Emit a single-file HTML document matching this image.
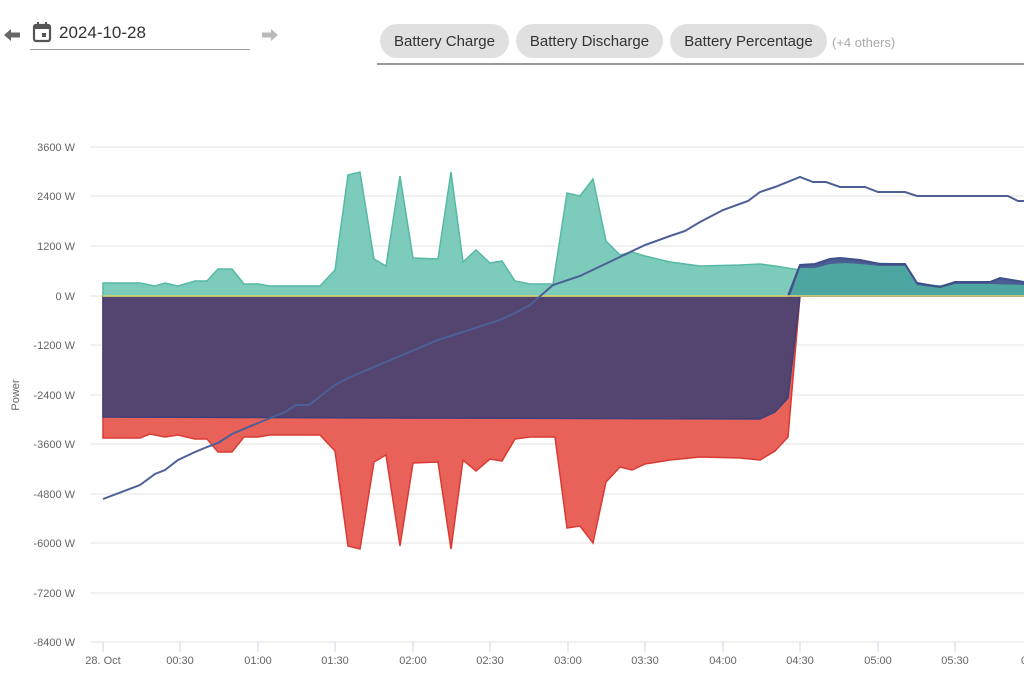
<!DOCTYPE html>
<html><head><meta charset="utf-8"><style>
body{margin:0;width:1024px;height:673px;background:#fff;font-family:"Liberation Sans",sans-serif;overflow:hidden;position:relative}
.chip{position:absolute;top:24px;height:34px;border-radius:17px;background:#e0e0e0;color:#333;font-size:15px;line-height:36px;text-align:center}
</style></head><body>
<svg style="position:absolute;left:2px;top:28px" width="20" height="14"><path d="M2 7 L9 1 V4.5 H18 V9.5 H9 V13 Z" fill="#666"/></svg>
<svg style="position:absolute;left:260px;top:28px" width="20" height="14"><path d="M18 7 L11 1 V4.5 H2 V9.5 H11 V13 Z" fill="#bbb"/></svg>
<svg style="position:absolute;left:32px;top:21px" width="20" height="22"><rect x="2" y="4" width="16" height="16" rx="2" fill="none" stroke="#555" stroke-width="2.2"/><rect x="2" y="4" width="16" height="4" fill="#555"/><rect x="5" y="1" width="2" height="4" fill="#555"/><rect x="13" y="1" width="2" height="4" fill="#555"/><rect x="10" y="12" width="4" height="4" fill="#555"/></svg>
<div style="position:absolute;left:59px;top:23px;font-size:17px;color:#333">2024-10-28</div>
<div style="position:absolute;left:30px;top:49px;width:220px;height:1px;background:#999"></div>
<div class="chip" style="left:380px;width:129px">Battery Charge</div>
<div class="chip" style="left:516px;width:147px">Battery Discharge</div>
<div class="chip" style="left:670px;width:157px">Battery Percentage</div>
<div style="position:absolute;left:832px;top:35px;font-size:13px;color:#aaa">(+4 others)</div>
<div style="position:absolute;left:377px;top:63px;width:647px;height:2px;background:#999"></div>
<svg style="position:absolute;left:0;top:0" width="1024" height="673" font-family="Liberation Sans, sans-serif">
<g stroke="#e3e3e3" stroke-width="1">
<line x1="90" x2="1024" y1="147" y2="147"/><line x1="90" x2="1024" y1="196" y2="196"/><line x1="90" x2="1024" y1="246" y2="246"/><line x1="90" x2="1024" y1="296" y2="296"/><line x1="90" x2="1024" y1="345" y2="345"/><line x1="90" x2="1024" y1="395" y2="395"/><line x1="90" x2="1024" y1="444" y2="444"/><line x1="90" x2="1024" y1="494" y2="494"/><line x1="90" x2="1024" y1="543" y2="543"/><line x1="90" x2="1024" y1="593" y2="593"/><line x1="90" x2="1024" y1="642" y2="642"/>
</g>
<g font-size="11" fill="#666" text-anchor="end">
<text x="75" y="151">3600 W</text><text x="75" y="200">2400 W</text><text x="75" y="250">1200 W</text><text x="75" y="300">0 W</text><text x="75" y="349">-1200 W</text><text x="75" y="399">-2400 W</text><text x="75" y="448">-3600 W</text><text x="75" y="498">-4800 W</text><text x="75" y="547">-6000 W</text><text x="75" y="597">-7200 W</text><text x="75" y="646">-8400 W</text>
</g>
<text x="19" y="395" font-size="11" fill="#666" text-anchor="middle" transform="rotate(-90 19 395)">Power</text>
<g font-size="11" fill="#666" text-anchor="middle">
<text x="103" y="664">28. Oct</text><text x="180" y="664">00:30</text><text x="258" y="664">01:00</text><text x="335" y="664">01:30</text><text x="413" y="664">02:00</text><text x="490" y="664">02:30</text><text x="568" y="664">03:00</text><text x="645" y="664">03:30</text><text x="723" y="664">04:00</text><text x="800" y="664">04:30</text><text x="878" y="664">05:00</text><text x="955" y="664">05:30</text><text x="1024" y="664">0</text>
</g>
<g stroke="#ccd6eb"><line x1="103" x2="103" y1="642" y2="652"/><line x1="180" x2="180" y1="642" y2="652"/><line x1="258" x2="258" y1="642" y2="652"/><line x1="335" x2="335" y1="642" y2="652"/><line x1="413" x2="413" y1="642" y2="652"/><line x1="490" x2="490" y1="642" y2="652"/><line x1="568" x2="568" y1="642" y2="652"/><line x1="645" x2="645" y1="642" y2="652"/><line x1="723" x2="723" y1="642" y2="652"/><line x1="800" x2="800" y1="642" y2="652"/><line x1="878" x2="878" y1="642" y2="652"/><line x1="955" x2="955" y1="642" y2="652"/></g>
<path d="M103 296 L103 438 L140 438 L150 434 L165 437 L178 435 L195 439 L207 439 L218 452 L232 452 L244 437 L258 437 L270 435 L320 435 L335 451 L348 546 L360 549 L374 462 L386 455 L400 546 L413 463 L438 462 L451 549 L463 460 L476 471 L490 459 L502 461 L515 439 L530 437 L555 437 L567 528 L580 526 L593 543 L606 482 L620 467 L632 470 L645 464 L670 460 L700 457 L740 458 L760 460 L775 451 L788 437 L800 296 Z" fill="#e8625a" stroke="#d93a33" stroke-width="1.5"/>
<path d="M103 296 L103 417 L400 418 L760 419 L775 412 L788 398 L800 296 Z" fill="#544470" stroke="#3f3f7a" stroke-width="1.5"/>
<path d="M103 296 L103 283 L140 283 L155 286 L165 283 L178 286 L195 281 L207 281 L218 269 L232 269 L244 284 L258 284 L270 286 L320 286 L335 270 L348 175 L360 172 L374 259 L386 266 L400 176 L413 258 L438 259 L451 172 L463 262 L476 250 L490 263 L502 261 L515 281 L530 284 L553 284 L567 193 L580 196 L593 179 L606 241 L620 255 L632 252 L645 256 L670 262 L700 266 L740 265 L760 264 L775 266 L800 270 L815 265 L830 262 L860 263 L905 264 L917 284 L940 286 L955 283 L1024 284 L1024 296 Z" fill="#7ccbbb" stroke="#56b9a4" stroke-width="1.5"/>
<path d="M788 296 L800 265 L815 264 L830 259 L840 258 L860 260 L880 264 L905 264 L917 283 L940 287 L955 282 L990 282 L1000 278 L1024 282 L1024 296 Z" fill="#4b5e93" stroke="#3f4f8a" stroke-width="2"/>
<path d="M790 296 L800 268 L815 268 L830 264 L845 263 L860 264 L880 266 L905 266 L917 285 L940 288 L955 284 L990 284 L1024 285 L1024 296 Z" fill="#4ea6a0"/>
<line x1="103" x2="1024" y1="296" y2="296" stroke="#e2d36a" stroke-width="1.5"/>
<polyline fill="none" stroke="#4d5f96" stroke-width="2" points="103,499 140,485 155,474 165,470 178,460 195,452 207,447 218,443 232,434 258,423 285,412 296,405 309,405 335,385 348,378 438,340 500,320 515,313 530,305 553,285 580,276 645,245 670,236 685,231 700,222 723,210 748,201 760,192 775,187 800,177 813,182 826,182 840,187 865,187 878,192 905,192 917,196 1008,196 1018,201 1024,201"/>
</svg>
</body></html>
